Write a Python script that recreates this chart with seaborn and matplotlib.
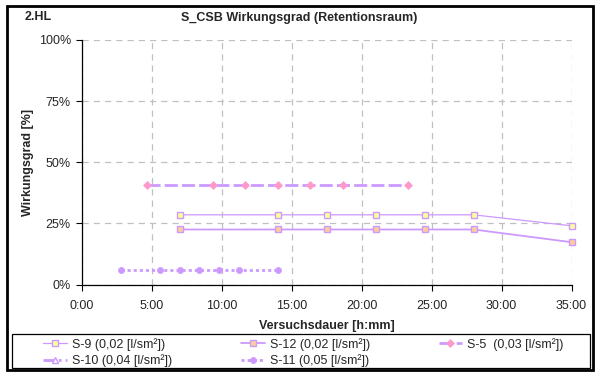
import matplotlib
matplotlib.use("Agg")
import matplotlib.pyplot as plt
from matplotlib.lines import Line2D
from matplotlib.patches import Rectangle
import seaborn as sns
import pandas as pd

# ---- data (time as "h:mm", efficiency in %) ----
s9_time = ["7:00", "14:00", "17:30", "21:00", "24:30", "28:00", "35:00"]
s9_val = [28.5, 28.5, 28.5, 28.5, 28.5, 28.5, 24.0]

s12_time = ["7:00", "14:00", "17:30", "21:00", "24:30", "28:00", "35:00"]
s12_val = [22.5, 22.5, 22.5, 22.5, 22.5, 22.5, 17.3]

s5_time = ["4:40", "9:20", "11:40", "14:00", "16:20", "18:40", "23:20"]
s5_val = [40.8, 40.8, 40.8, 40.8, 40.8, 40.8, 40.8]

s10_time = []
s10_val = []

s11_time = ["2:48", "5:36", "7:00", "8:24", "9:48", "11:12", "14:00"]
s11_val = [6.0, 6.0, 6.0, 6.0, 6.0, 6.0, 6.0]

labels = ["S-9 (0,02 [l/sm²])", "S-12 (0,02 [l/sm²])", "S-5  (0,03 [l/sm²])",
          "S-10 (0,04 [l/sm²])", "S-11 (0,05 [l/sm²])"]
x_ticks = ["0:00", "5:00", "10:00", "15:00", "20:00", "25:00", "30:00", "35:00"]
y_ticks = [0, 25, 50, 75, 100]


def to_hours(s):
    h, m = s.split(":")
    return int(h) + int(m) / 60.0


sns.set_style("white")
plt.rcParams["font.family"] = ["Liberation Sans", "DejaVu Sans"]

W, H = 598, 372
fig = plt.figure(figsize=(W / 100, H / 100), dpi=100)
ax = fig.add_axes([82 / W, 1 - 284.5 / H, (571.5 - 82) / W, (284.5 - 40) / H])

LAV = "#CC99FF"
styles = [
    dict(ls="-", lw=0.9, marker="s", ms=4.4, mfc="#FFFF99", mec=LAV, mew=1.0),
    dict(ls="-", lw=1.3, marker="s", ms=4.4, mfc="#FFCC99", mec=LAV, mew=1.0),
    dict(ls=(0, (4.7, 1.5)), lw=2.0, marker="D", ms=4.0, mfc="#FF99CC", mec="#FF99CC", mew=0.5),
    dict(ls=(0, (4.0, 1.5, 1, 1.5)), lw=2.0, marker="^", ms=4.4, mfc="white", mec=LAV, mew=1.0),
    dict(ls=(0, (1.1, 1.1)), lw=2.0, marker="o", ms=4.4, mfc=LAV, mec=LAV, mew=0.5),
]
series = [(s9_time, s9_val), (s12_time, s12_val), (s5_time, s5_val),
          (s10_time, s10_val), (s11_time, s11_val)]

handles = []
for (t, v), lab, st in zip(series, labels, styles):
    if len(t) > 0:
        df = pd.DataFrame({"t": [to_hours(s) for s in t], "v": v})
        sns.lineplot(data=df, x="t", y="v", ax=ax, color=LAV, linestyle=st["ls"],
                     linewidth=st["lw"], marker=st["marker"], markersize=st["ms"],
                     markerfacecolor=st["mfc"], markeredgecolor=st["mec"],
                     markeredgewidth=st["mew"], legend=False, zorder=3, clip_on=False)
    handles.append(Line2D([], [], color=LAV, linestyle=st["ls"], linewidth=st["lw"],
                          marker=st["marker"], markersize=st["ms"],
                          markerfacecolor=st["mfc"], markeredgecolor=st["mec"],
                          markeredgewidth=st["mew"], label=lab))

ax.set_xlim(0, 35)
ax.set_ylim(0, 100)
ax.set_xticks([to_hours(s) for s in x_ticks])
ax.set_xticklabels(x_ticks, fontsize=9)
ax.set_yticks(y_ticks)
ax.set_yticklabels([f"{y}%" for y in y_ticks], fontsize=9)
ax.tick_params(axis="both", direction="out", length=4, width=0.8, color="black",
               bottom=True, left=True)
ax.tick_params(axis="x", pad=7)
ax.tick_params(axis="y", pad=4)

ax.grid(True, color="#C0C0C0", linestyle=(0, (5, 4)), linewidth=0.9)
ax.set_axisbelow(True)
for side in ["top", "right"]:
    ax.spines[side].set_visible(False)
for side in ["left", "bottom"]:
    ax.spines[side].set_color("black")
    ax.spines[side].set_linewidth(0.9)

ax.set_xlabel("Versuchsdauer [h:mm]", fontsize=9, fontweight="bold", labelpad=6)
ax.set_ylabel("Wirkungsgrad [%]", fontsize=9, fontweight="bold", labelpad=3)

fig.text(0.5, 1 - 18 / H, "S_CSB Wirkungsgrad (Retentionsraum)", ha="center", va="center",
         fontsize=9, fontweight="bold")
fig.text(25 / W, 1 - 17 / H, "2.HL", ha="left", va="center", fontsize=9, fontweight="bold")

order = [0, 3, 1, 4, 2]
leg = fig.legend([handles[i] for i in order], [labels[i] for i in order],
                 loc="center left", bbox_to_anchor=(37 / W, 1 - 352.5 / H), ncol=3,
                 fontsize=9, frameon=False, handlelength=1.9, columnspacing=5.5,
                 borderpad=0.0, labelspacing=0.3, handletextpad=0.4)

# legend box
fig.patches.append(Rectangle((12 / W, 1 - 368 / H), 578 / W, 34 / H, transform=fig.transFigure,
                             fill=False, edgecolor="black", linewidth=0.9))
# outer chart frame
fig.patches.append(Rectangle((7 / W, 1 - 370 / H), 586 / W, 364 / H, transform=fig.transFigure,
                             fill=False, edgecolor="black", linewidth=2))

fig.savefig("out.png", dpi=100)
